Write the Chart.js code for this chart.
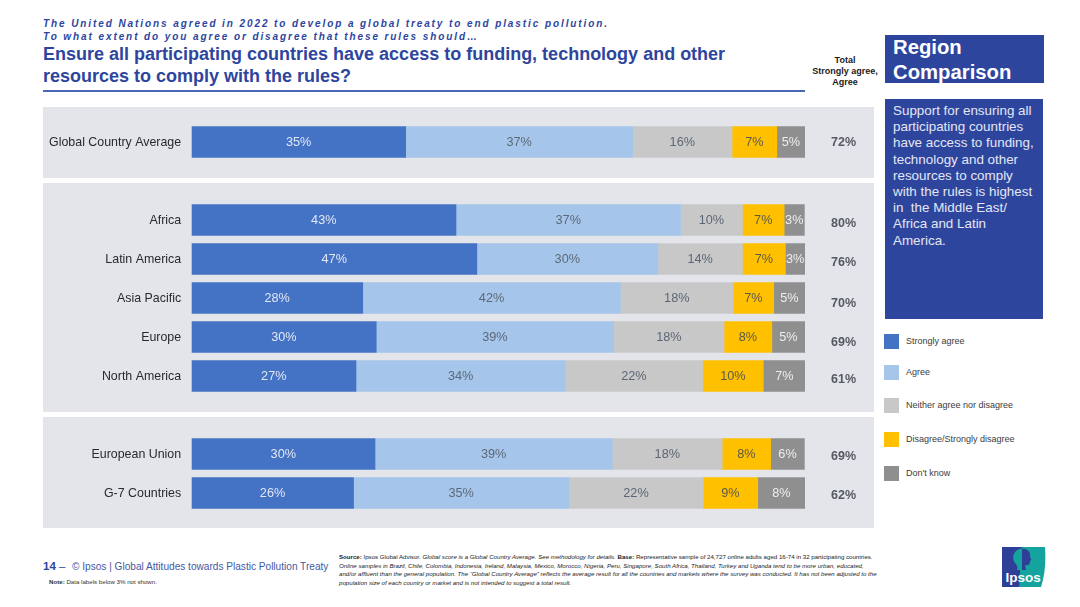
<!DOCTYPE html>
<html>
<head>
<meta charset="utf-8">
<title>Region Comparison</title>
<script src="https://cdn.jsdelivr.net/npm/chart.js@4"></script>
<style>
  html, body { margin:0; padding:0; background:#fff; }
  body { position:relative; width:1080px; height:607px; overflow:hidden; font-family:'Liberation Sans', Arial, sans-serif; }
  .t { position:absolute; white-space:nowrap; }
  .panel { position:absolute; left:43px; width:831px; background:#e3e5eb; }
  .swatch { position:absolute; left:884px; width:15px; height:15px; }
  .leg { position:absolute; left:906px; font-size:9px; line-height:12px; color:#3c3c3c; white-space:nowrap; }
  canvas { position:absolute; left:0; top:0; }
</style>
</head>
<body>
<div class="panel" style="top:107px;height:71px"></div>
<div class="panel" style="top:183px;height:229px"></div>
<div class="panel" style="top:417px;height:111px"></div>

<div class="t" style="left:43px;top:17px;font:italic bold 10px/13px 'Liberation Sans';letter-spacing:1.91px;color:#2e459e">The United Nations agreed in 2022 to develop a global treaty to end plastic pollution.<br>To what extent do you agree or disagree that these rules should…</div>
<div class="t" style="left:43px;top:43px;font:bold 18px/22px 'Liberation Sans';color:#2e459e">Ensure all participating countries have access to funding, technology and other<br>resources to comply with the rules?</div>
<div style="position:absolute;left:43px;top:90px;width:762px;height:2px;background:#4a66b4"></div>

<div class="t" style="left:805px;width:80px;top:55px;text-align:center;font:bold 9px/11px 'Liberation Sans';color:#1a1a1a">Total<br>Strongly agree,<br>Agree</div>

<div style="position:absolute;left:885px;top:35px;width:159px;height:48px;background:#2e459e"></div>
<div class="t" style="left:893px;top:35px;font:bold 20.3px/25px 'Liberation Sans';color:#fff">Region<br>Comparison</div>
<div style="position:absolute;left:885px;top:99px;width:158px;height:220px;background:#2e459e"></div>
<div class="t" style="left:893px;top:103px;font:13.4px/16.2px 'Liberation Sans';color:#e3e7f4">Support for ensuring all<br>participating countries<br>have access to funding,<br>technology and other<br>resources to comply<br>with the rules is highest<br>in&nbsp; the Middle East/<br>Africa and Latin<br>America.</div>

<div id="legend"></div>

<div class="t" style="left:43px;top:560px;font:bold 11.5px/13px 'Liberation Sans';color:#2e459e">14<span style="font-weight:normal"> –</span></div>
<div class="t" style="left:72px;top:560px;font:10.1px/13px 'Liberation Sans';color:#4558a4">© Ipsos | Global Attitudes towards Plastic Pollution Treaty</div>
<div class="t" style="left:49px;top:578px;font:6.15px/8px 'Liberation Sans';color:#333"><b>Note:</b> Data labels below 3% not shown.</div>
<div class="t" style="left:339px;top:553px;font:6.13px/8.6px 'Liberation Sans';color:#222"><b>Source:</b> Ipsos Global Advisor. <i>Global score is a Global Country Average. See methodology for details.</i> <b>Base:</b> Representative sample of 24,727 online adults aged 16-74 in 32 participating countries.<br><i>Online samples in Brazil, Chile, Colombia, Indonesia, Ireland, Malaysia, Mexico, Morocco, Nigeria, Peru, Singapore, South Africa, Thailand, Turkey and Uganda tend to be more urban, educated,</i><br><i>and/or affluent than the general population. The “Global Country Average” reflects the average result for all the countries and markets where the survey was conducted. It has not been adjusted to the</i><br><i>population size of each country or market and is not intended to suggest a total result.</i></div>

<svg style="position:absolute;left:1002px;top:547px" width="44" height="41" viewBox="0 0 44 41">
  <path d="M0 0H43C44 14 43 28 39 40H0Z" fill="#14a39e"/>
  <path d="M0 0H20C17 14 19 28 17 40H0Z" fill="#2f3f97"/>
  <path d="M14 4C18 1 20 2 20 2L21 23H15C16 20 15 18 13 16C10 12 11 7 14 4Z" fill="#14a39e"/>
  <path d="M20 2C25 1 29 5 28 10C30 13 29 13 28 14C28 18 26 19 23 18L24 23H20Z" fill="#2f3f97"/>
  <text x="3.5" y="35" font-family="Liberation Sans" font-size="13.5" font-weight="bold" fill="#fff">Ipsos</text>
</svg>

<canvas id="chart" width="1080" height="607"></canvas>

<script>
// blank entries leave the gaps between the three grey panels
const categories = ['Global Country Average','','Africa','Latin America','Asia Pacific','Europe','North America','','European Union','G-7 Countries'];
const seriesNames = ['Strongly agree','Agree','Neither agree nor disagree','Disagree/Strongly disagree',"Don't know"];
const stronglyAgree = [34.9,null,43.1,46.5,27.9,30.1,26.8,null,29.9,26.4];
const agree         = [37.0,null,36.6,29.5,42.0,38.7,34.1,null,38.7,35.1];
const neither       = [16.2,null,10.1,13.8,18.4,18.0,22.4,null,17.9,21.9];
const disagree      = [7.3,null,6.8,7.0,6.6,7.8,9.9,null,7.9,8.9];
const dontKnow      = [4.6,null,3.3,3.2,5.1,5.4,6.9,null,5.5,7.7];
const totals        = ['72%','','80%','76%','70%','69%','61%','','69%','62%'];

const colors = ['#4472c4','#a5c6ea','#c8c8c8','#ffc000','#8f8f8f'];
const labelColors = ['#e3e8f6','#5c6878','#5c6675','#5a5a4a','#eeeeee'];

// legend is uneven in the original, so just place it by hand
const legendTops = [334,365,398,432,466];
document.getElementById('legend').innerHTML = seriesNames.map((n,i) =>
  `<div class="swatch" style="top:${legendTops[i]}px;background:${colors[i]}"></div>` +
  `<div class="leg" style="top:${legendTops[i]+1}px">${n}</div>`).join('');

const barLabels = {
  id: 'barLabels',
  afterDatasetsDraw(chart){
    const ctx = chart.ctx;
    ctx.save();
    ctx.font = "12.7px 'Liberation Sans'";
    ctx.textAlign = 'center';
    ctx.textBaseline = 'middle';
    chart.data.datasets.forEach((ds,i) => {
      ctx.fillStyle = labelColors[i];
      chart.getDatasetMeta(i).data.forEach((bar,j) => {
        if(ds.data[j] == null) return;
        ctx.fillText(Math.round(ds.data[j]) + '%', (bar.x + bar.base)/2, bar.y + 0.5);
      });
    });
    ctx.restore();
  }
};

// totals column sits a touch lower than the bars in the lower rows
const totalNudge = [1,0,4,4,6,6,4,0,3,3];
const totalColumn = {
  id: 'totalColumn',
  afterDatasetsDraw(chart){
    const ctx = chart.ctx, y = chart.scales.y;
    ctx.save();
    ctx.font = "bold 12.5px 'Liberation Sans'";
    ctx.fillStyle = '#555a62';
    ctx.textAlign = 'center';
    ctx.textBaseline = 'middle';
    totals.forEach((t,i) => { if(t) ctx.fillText(t, 843.5, y.getPixelForValue(i) + totalNudge[i]); });
    ctx.restore();
  }
};

const seriesData = [stronglyAgree, agree, neither, disagree, dontKnow];

new Chart(document.getElementById('chart'), {
  type: 'bar',
  data: {
    labels: categories,
    datasets: seriesData.map((d,i) => ({
      label: seriesNames[i], data: d, backgroundColor: colors[i],
      barThickness: 31, borderWidth: 0,
    })),
  },
  options: {
    indexAxis: 'y',
    responsive: false,
    animation: false,
    layout: { padding: { left: 0, right: 275, top: 122.5, bottom: 94.5 } },
    plugins: { legend: { display:false }, tooltip: { enabled:false } },
    scales: {
      x: { stacked:true, min:0, max:100, display:false },
      y: {
        stacked:true,
        grid: { display:false, drawTicks:false },
        border: { display:false },
        ticks: { autoSkip:false, padding:10.5, labelOffset:1, color:'#2a2a2a', font:{ size:12.4, family:"'Liberation Sans'" } },
        afterFit(s){ s.width = 191.6; },
      },
    },
  },
  plugins: [barLabels, totalColumn],
});
</script>
</body>
</html>
